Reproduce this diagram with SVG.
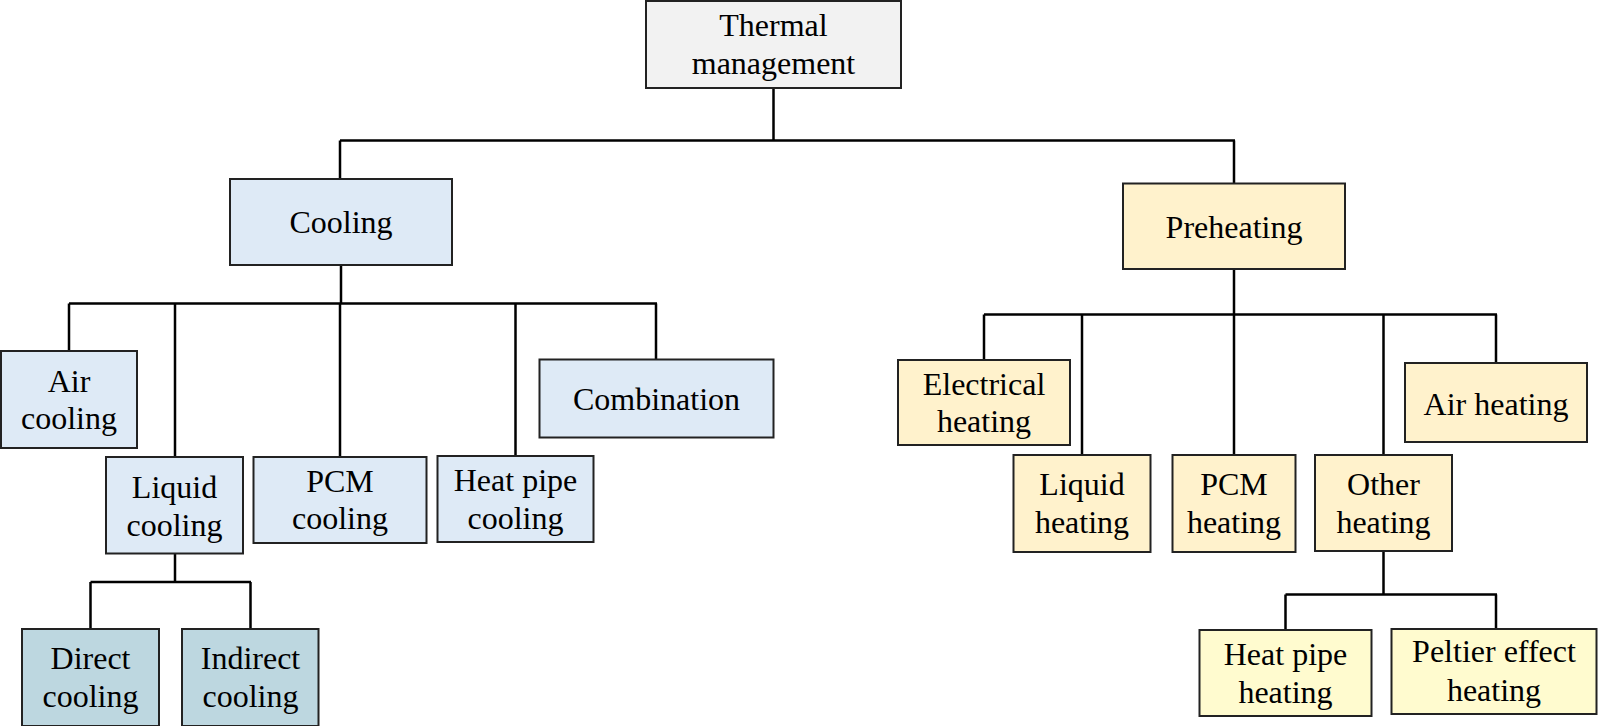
<svg xmlns="http://www.w3.org/2000/svg" width="1598" height="726" viewBox="0 0 1598 726">
<style>
.box{stroke:#222;stroke-width:2}
.root{fill:#F2F2F2}
.c{fill:#DEEAF6}
.cd{fill:#BDD7E0}
.h{fill:#FFF2CC}
.hl{fill:#FFFBCF}
text{font-family:"Liberation Serif","Times New Roman",serif;font-size:32px;fill:#000;text-anchor:middle}
.con path{fill:none;stroke:#000;stroke-width:2.5}
</style>
<rect x="0" y="0" width="1598" height="726" fill="#fff"/>
<g class="con">
<path d="M773.5,88 V140.5 M340,140.5 H1235 M340,140.5 V179 M1234,140.5 V183"/>
<path d="M341,265 V303.5 M69,303.5 H657 M69,303.5 V351 M175,303.5 V457 M340,303.5 V457 M515.5,303.5 V456 M656,303.5 V359"/>
<path d="M175,553.5 V582 M90.5,582 H251 M90.5,582 V629 M250.5,582 V629"/>
<path d="M1234,269 V314.5 M984,314.5 H1497 M984,314.5 V360 M1082,314.5 V455 M1234,314.5 V455 M1383.5,314.5 V455 M1496,314.5 V363"/>
<path d="M1383.5,551 V594.5 M1285.5,594.5 H1497 M1285.5,594.5 V630 M1496,594.5 V629"/>
</g>
<g id="thermal"><rect class="box root" x="646" y="1" width="255" height="87"/><text x="773.5" y="36">Thermal</text><text x="773.5" y="74">management</text></g>
<g id="cooling"><rect class="box c" x="230" y="179" width="222" height="86"/><text x="341" y="233">Cooling</text></g>
<g id="air-cooling"><rect class="box c" x="1" y="351" width="136" height="97"/><text x="69" y="392">Air</text><text x="69" y="429">cooling</text></g>
<g id="combination"><rect class="box c" x="539.5" y="359.5" width="234" height="78"/><text x="656.5" y="410">Combination</text></g>
<g id="liquid-cooling"><rect class="box c" x="106" y="457" width="137" height="96.5"/><text x="174.5" y="498">Liquid</text><text x="174.5" y="536">cooling</text></g>
<g id="pcm-cooling"><rect class="box c" x="253.5" y="457" width="173" height="86"/><text x="340" y="492">PCM</text><text x="340" y="529">cooling</text></g>
<g id="heatpipe-cooling"><rect class="box c" x="437.5" y="456" width="156" height="86"/><text x="515.5" y="491">Heat pipe</text><text x="515.5" y="529">cooling</text></g>
<g id="direct-cooling"><rect class="box cd" x="22" y="629" width="137" height="97"/><text x="90.5" y="669">Direct</text><text x="90.5" y="707">cooling</text></g>
<g id="indirect-cooling"><rect class="box cd" x="182" y="629" width="136.5" height="97"/><text x="250.5" y="669">Indirect</text><text x="250.5" y="707">cooling</text></g>
<g id="preheating"><rect class="box h" x="1123" y="183.5" width="222" height="85.5"/><text x="1234" y="238">Preheating</text></g>
<g id="electrical-heating"><rect class="box h" x="898" y="360" width="172" height="85"/><text x="984" y="395">Electrical</text><text x="984" y="432">heating</text></g>
<g id="air-heating"><rect class="box h" x="1405" y="363" width="182" height="79"/><text x="1496" y="415">Air heating</text></g>
<g id="liquid-heating"><rect class="box h" x="1013.5" y="455" width="137" height="97"/><text x="1082" y="495">Liquid</text><text x="1082" y="533">heating</text></g>
<g id="pcm-heating"><rect class="box h" x="1172.5" y="455" width="123" height="97"/><text x="1234" y="495">PCM</text><text x="1234" y="533">heating</text></g>
<g id="other-heating"><rect class="box h" x="1315" y="455" width="137" height="96"/><text x="1383.5" y="495">Other</text><text x="1383.5" y="533">heating</text></g>
<g id="heatpipe-heating"><rect class="box hl" x="1199.5" y="630" width="172" height="86"/><text x="1285.5" y="665">Heat pipe</text><text x="1285.5" y="703">heating</text></g>
<g id="peltier-heating"><rect class="box hl" x="1391.5" y="629" width="205" height="85"/><text x="1494" y="662">Peltier effect</text><text x="1494" y="701">heating</text></g>
</svg>
